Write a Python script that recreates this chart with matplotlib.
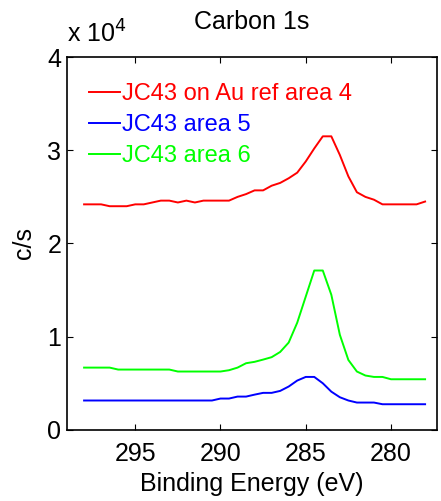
import matplotlib

matplotlib.use("Agg")
import matplotlib.pyplot as plt
import numpy as np

# Binding energy grid (eV), 0.5 eV steps from 298 down to 278
energy = np.arange(298.0, 277.9, -0.5)

red_area4 = [2.42, 2.42, 2.42, 2.40, 2.40, 2.40, 2.42, 2.42, 2.44, 2.46,
             2.46, 2.44, 2.46, 2.44, 2.46, 2.46, 2.46, 2.46, 2.50, 2.53,
             2.57, 2.57, 2.62, 2.65, 2.70, 2.76, 2.88, 3.02, 3.15, 3.15,
             2.95, 2.72, 2.55, 2.50, 2.47, 2.42, 2.42, 2.42, 2.42, 2.42,
             2.45]
blue_area5 = [0.315] * 16 + [0.336, 0.336, 0.357, 0.357, 0.378, 0.397, 0.397,
                             0.418, 0.465, 0.529, 0.568, 0.568, 0.50, 0.41,
                             0.35, 0.315, 0.293, 0.293, 0.293, 0.275,
                             0.275, 0.275, 0.275, 0.275, 0.275]
green_area6 = [0.668, 0.668, 0.668, 0.668, 0.647, 0.647, 0.647, 0.647, 0.647,
               0.647, 0.647, 0.626, 0.626, 0.626, 0.626, 0.626, 0.626, 0.64,
               0.668, 0.715, 0.73, 0.754, 0.78, 0.836, 0.937, 1.15, 1.43,
               1.71, 1.71, 1.45, 1.02, 0.75, 0.626, 0.583, 0.568, 0.568,
               0.543, 0.543, 0.543, 0.543, 0.543]

SERIES = [
    (red_area4, "JC43 on Au ref area 4", "#ff0000"),
    (blue_area5, "JC43 area 5", "#0000ff"),
    (green_area6, "JC43 area 6", "#00ff00"),
]

plt.rcParams.update({
    "font.family": ["Liberation Sans", "DejaVu Sans"],
    "font.size": 18,
    "xtick.direction": "in",
    "ytick.direction": "in",
    "xtick.top": True,
    "ytick.right": True,
})

fig = plt.figure(figsize=(4.41, 5.01), dpi=100)
ax = fig.add_axes([0.152, 0.142, 0.839, 0.744])

for values, label, color in SERIES:
    ax.plot(energy, np.array(values) * 1e4, color=color, linewidth=1.4, label=label)

ax.set_xlim(299, 277.3)
ax.set_ylim(0, 4e4)
ax.set_xticks([295, 290, 285, 280])
ax.set_yticks([0, 1e4, 2e4, 3e4, 4e4], ["0", "1", "2", "3", "4"])
ax.tick_params(length=4, width=0.8, labelsize=18, pad=4)
ax.tick_params(axis="x", pad=9)
for spine in ax.spines.values():
    spine.set_linewidth(1.2)

ax.set_xlabel("Binding Energy (eV)", fontsize=18, labelpad=4)
ax.set_ylabel("c/s", fontsize=18, labelpad=8)
ax.set_title("Carbon 1s", fontsize=18, pad=20)
fig.text(0.152, 0.904, r"x 10$^{4}$", fontsize=18, ha="left", va="bottom")

leg = ax.legend(loc="upper left", frameon=False, handlelength=1.3,
                handletextpad=0.1, labelspacing=0.38, borderaxespad=0.0,
                fontsize=17, bbox_to_anchor=(0.035, 0.955))
for text, (_, _, color) in zip(leg.get_texts(), SERIES):
    text.set_color(color)

fig.savefig("out.png", dpi=100)
